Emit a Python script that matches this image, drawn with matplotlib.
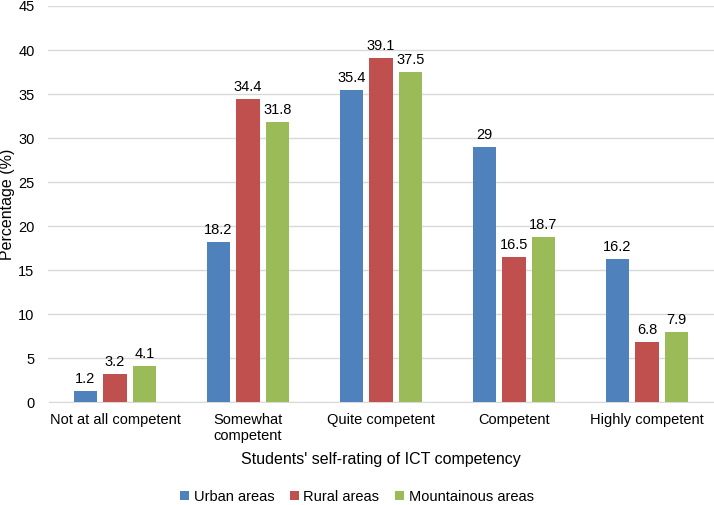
import numpy as np
import matplotlib.pyplot as plt

plt.rcParams['font.family'] = ['Liberation Sans', 'DejaVu Sans']

categories = ["Not at all competent", "Somewhat\ncompetent", "Quite competent",
              "Competent", "Highly competent"]
urban = [1.2, 18.2, 35.4, 29, 16.2]
rural = [3.2, 34.4, 39.1, 16.5, 6.8]
mountain = [4.1, 31.8, 37.5, 18.7, 7.9]

series = [("Urban areas", urban, "#4F81BD"),
          ("Rural areas", rural, "#C0504D"),
          ("Mountainous areas", mountain, "#9BBB59")]

fig = plt.figure(figsize=(7.14, 5.05), dpi=100)
ax = fig.add_axes([48.5 / 714, 1 - 402 / 505, 665 / 714, 396 / 505])

x = np.arange(len(categories))
width = 0.177
step = 0.222
for i, (name, vals, col) in enumerate(series):
    pos = x + (i - 1) * step
    bars = ax.bar(pos, vals, width, color=col, label=name, zorder=3)
    for b, v in zip(bars, vals):
        ax.text(b.get_x() + b.get_width() / 2, v + 0.6, f"{v:g}",
                ha='center', va='bottom', fontsize=10.5)

ax.set_xlim(-0.5, len(categories) - 0.5)
ax.set_ylim(0, 45)
ax.set_yticks(range(0, 46, 5))
ax.set_xticks(x)
ax.set_xticklabels(categories, fontsize=10.5, linespacing=1.2)
ax.tick_params(axis='both', length=0, labelsize=10.5)
ax.tick_params(axis='x', pad=8)
ax.tick_params(axis='y', pad=10)
ax.yaxis.grid(True, color='#D9D9D9', linewidth=1, zorder=0)
for s in ['top', 'right', 'left']:
    ax.spines[s].set_visible(False)
ax.spines['bottom'].set_color('#D9D9D9')

ax.set_xlabel("Students' self-rating of ICT competency", fontsize=11.5, labelpad=6)
ax.set_ylabel("Percentage (%)", fontsize=11.5)
ax.yaxis.set_label_coords(-0.05, 0.5)

fig.legend(*ax.get_legend_handles_labels(), loc='center',
           bbox_to_anchor=(0.5, 1 - 497 / 505), ncol=3, frameon=False,
           fontsize=10.5, handlelength=0.6, handleheight=0.6, handletextpad=0.3,
           columnspacing=1.1, borderpad=0.1)

fig.savefig("out.png", dpi=100)
